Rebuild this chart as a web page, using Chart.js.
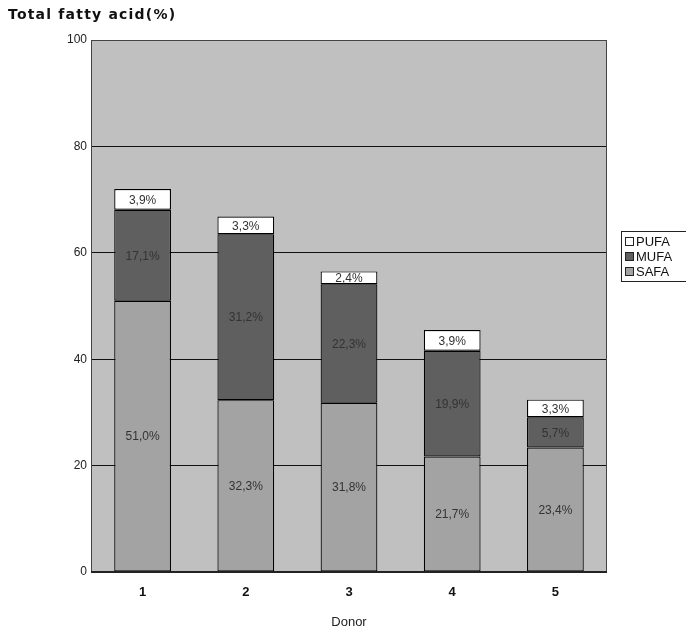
<!DOCTYPE html>
<html>
<head>
<meta charset="utf-8">
<script src="https://cdn.jsdelivr.net/npm/chart.js@4.4.0/dist/chart.umd.min.js"></script>
<style>
  html, body { margin: 0; padding: 0; background: #fff; }
  #wrap { width: 686px; height: 635px; position: relative; }
</style>
</head>
<body>
<div id="wrap"><canvas id="myChart"></canvas></div>
<script>
const donors = ['1', '2', '3', '4', '5'];
const safa = [51.0, 32.3, 31.8, 21.7, 23.4];
const mufa = [17.1, 31.2, 22.3, 19.9, 5.7];
const pufa = [3.9, 3.3, 2.4, 3.9, 3.3];
const yTicks = [0, 20, 40, 60, 80, 100];

const fontName = '"Liberation Sans", Arial, sans-serif';

// grey plot background + frame
const plotBg = {
    id: 'plotBg',
    beforeDraw(chart) {
        const { ctx, chartArea: a } = chart;
        ctx.save();
        ctx.fillStyle = '#c0c0c0';
        ctx.fillRect(a.left, a.top, a.right - a.left, a.bottom - a.top);
        ctx.restore();
    },
    afterDatasetsDraw(chart) {
        const { ctx, chartArea: a } = chart;
        ctx.save();
        ctx.strokeStyle = '#444';
        ctx.lineWidth = 1;
        ctx.strokeRect(a.left + 0.5, a.top + 0.5, a.right - a.left - 1, a.bottom - a.top);
        ctx.strokeStyle = '#222';
        ctx.lineWidth = 2;
        ctx.beginPath();
        ctx.moveTo(a.left, a.bottom);
        ctx.lineTo(a.right, a.bottom);
        ctx.stroke();
        ctx.restore();
    }
};

// percent labels inside each segment
const segLabels = {
    id: 'segLabels',
    afterDatasetsDraw(chart) {
        const ctx = chart.ctx;
        ctx.save();
        ctx.font = '12px ' + fontName;
        ctx.fillStyle = '#333';
        ctx.textAlign = 'center';
        ctx.textBaseline = 'middle';
        chart.data.datasets.forEach((ds, i) => {
            const meta = chart.getDatasetMeta(i);
            meta.data.forEach((bar, j) => {
                const v = ds.data[j];
                const txt = v.toFixed(1).replace('.', ',') + '%';
                const y = (bar.y + bar.base) / 2;
                ctx.fillText(txt, bar.x, y + 1);
            });
        });
        ctx.restore();
    }
};

// title at top left and boxed legend on the right
const extras = {
    id: 'extras',
    afterDraw(chart) {
        const ctx = chart.ctx;
        ctx.save();
        ctx.font = 'bold 14px "DejaVu Sans", sans-serif';
        ctx.letterSpacing = '1.2px';
        ctx.fillStyle = '#111';
        ctx.textBaseline = 'middle';
        ctx.fillText('Total fatty acid(%)', 8, 15);
        ctx.letterSpacing = '0px';

        ctx.strokeStyle = '#222';
        ctx.lineWidth = 1;
        ctx.strokeRect(621.5, 231.5, 70, 50);
        ctx.font = '13px ' + fontName;
        const items = [['PUFA', '#ffffff'], ['MUFA', '#5f5f5f'], ['SAFA', '#a3a3a3']];
        items.forEach((it, k) => {
            const y = 242 + k * 15;
            ctx.fillStyle = it[1];
            ctx.fillRect(625.5, y - 4.5, 8, 8);
            ctx.strokeStyle = '#222';
            ctx.strokeRect(625.5, y - 4.5, 8, 8);
            ctx.fillStyle = '#111';
            ctx.fillText(it[0], 636, y);
        });
        ctx.restore();
    }
};

const ctx = document.getElementById('myChart');
const myChart = new Chart(ctx, {
    type: 'bar',
    data: {
        labels: donors,
        datasets: [
            { label: 'SAFA', data: safa, backgroundColor: '#a3a3a3' },
            { label: 'MUFA', data: mufa, backgroundColor: '#5f5f5f' },
            { label: 'PUFA', data: pufa, backgroundColor: '#ffffff' }
        ].map(d => Object.assign(d, {
            borderColor: '#000',
            borderWidth: 1.2,
            borderSkipped: false,
            categoryPercentage: 1,
            barPercentage: 0.55
        }))
    },
    options: {
        responsive: true,
        maintainAspectRatio: false,
        animation: false,
        events: [],
        layout: { padding: { top: 40, right: 79, left: 0, bottom: 0 } },
        plugins: {
            legend: { display: false },
            tooltip: { enabled: false }
        },
        scales: {
            x: {
                stacked: true,
                grid: { display: false },
                border: { display: false },
                ticks: {
                    color: '#111',
                    padding: 5,
                    font: { family: fontName, size: 13, weight: 'bold' }
                },
                title: {
                    display: true,
                    text: 'Donor',
                    color: '#222',
                    padding: { top: 0, bottom: 5 },
                    font: { family: fontName, size: 13 }
                },
                afterFit(scale) { scale.height = 63; }
            },
            y: {
                stacked: true,
                min: 0,
                max: 100,
                afterBuildTicks(scale) { scale.ticks = yTicks.map(v => ({ value: v })); },
                grid: { color: '#111', lineWidth: 1, drawTicks: false },
                border: { display: false },
                ticks: {
                    color: '#222',
                    padding: 4,
                    font: { family: fontName, size: 12 }
                },
                afterFit(scale) { scale.width = 91; }
            }
        }
    },
    plugins: [plotBg, segLabels, extras]
});
</script>
</body>
</html>
